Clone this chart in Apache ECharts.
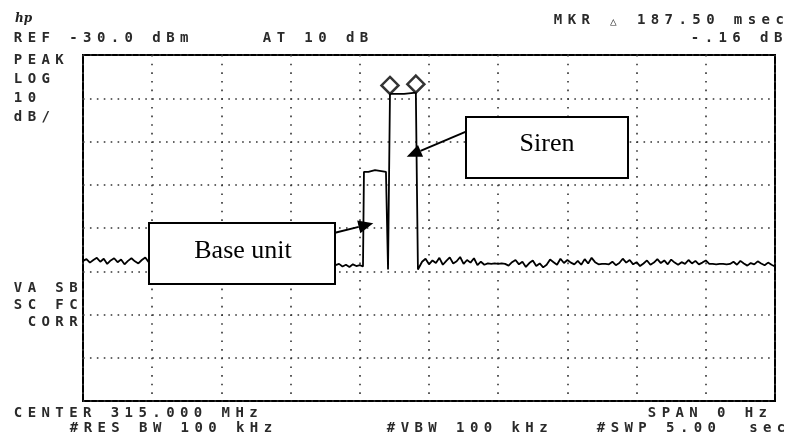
<!DOCTYPE html>
<html>
<head>
<meta charset="utf-8">
<script src="https://cdn.jsdelivr.net/npm/echarts@6/dist/echarts.min.js"></script>
<style>
  html, body { margin: 0; padding: 0; background: #fff; }
  #chart { width: 789px; height: 439px; }
</style>
</head>
<body>
<div id="chart"></div>
<script>
// sweep: 0..5000 ms, amplitude in dBm (ref -30, 10 dB/div)
var stepMs = 25;
var noiseAStart = 0;
var noiseA = [
  -77.6,-77.2,-78.0,-77.4,-76.9,-77.8,-77.1,-78.3,-77.5,-77.0,
  -77.9,-77.3,-78.4,-77.6,-77.0,-77.7,-78.2,-77.4,-76.8,-77.9,
  -78.5,-77.6,-77.1,-78.0,-77.4,-78.6,-77.8,-77.2,-78.1,-77.5,
  -78.7,-77.9,-77.3,-78.2,-77.6,-78.8,-77.7,-77.1,-78.3,-77.8,
  -78.5,-77.4,-78.0,-77.6,-78.9,-77.9,-77.2,-78.4,-77.7,-78.1,
  -77.5,-78.6,-77.8,-77.3,-78.2,-77.9,-78.7,-77.6,-78.0,-77.4,
  -78.5,-77.8,-78.3,-77.5,-78.1,-78.8,-77.7,-78.2,-78.6,-77.9,
  -78.4,-78.9,-78.1,-78.6,-78.3,-78.9,-78.5,-79.0,-78.4,-78.8,
  -78.6
];
var pulseMs = [2023, 2030, 2062, 2070, 2110, 2118, 2189, 2196, 2204, 2211,
               2218, 2320, 2330, 2405, 2412, 2420, 2428];
var pulseDb = [-78.9, -57.0, -57.0, -56.6, -56.6, -57.0, -57.0, -67.7, -79.6, -79.6,
               -39.0, -39.0, -38.7, -38.7, -58.4, -79.6, -79.3];
var noiseBStart = 2450;
var noiseB = [
  -77.8,-77.1,-78.4,-77.5,-78.1,-76.9,-78.5,-77.6,-76.8,-78.2,-77.7,
  -76.7,-78.3,-77.4,-78.0,-77.0,-78.6,-77.8,-78.5,-78.2,-78.3,-78.2,
  -78.3,-78.2,-78.3,-78.7,-77.9,-77.4,-78.4,-77.8,-79.0,-78.1,-77.5,
  -78.8,-78.2,-79.1,-78.5,-77.3,-77.9,-78.5,-77.1,-78.1,-77.4,-78.0,
  -78.4,-77.6,-78.5,-77.2,-78.2,-76.9,-77.9,-78.4,-78.3,-78.3,-78.4,
  -77.8,-78.6,-78.1,-77.1,-78.0,-77.4,-78.4,-77.9,-78.8,-78.2,-77.5,
  -78.5,-78.0,-77.2,-78.1,-77.5,-78.4,-77.3,-78.0,-78.5,-77.9,-78.3,
  -77.4,-78.2,-77.6,-78.4,-78.0,-77.5,-78.3,-78.3,-78.4,-78.3,-78.3,
  -78.4,-78.3,-77.8,-78.5,-77.6,-78.2,-78.7,-78.1,-78.4,-77.7,-78.2,
  -78.6,-78.0,-78.5,-78.9
];
var markerMs = [2218, 2405];
var markerDb = [-39.0, -38.7];

// screen annotations of the analyzer
var topLine1 = 'MKR \u25B3 187.50 msec';
var topLine2 = '-.16 dB';
var refLine = 'REF -30.0 dBm';
var attLine = 'AT 10 dB';
var leftLabels = ['PEAK', 'LOG', '10', 'dB/'];
var leftLabels2 = ['VA SB', 'SC FC', ' CORR'];
var bottomCenter = 'CENTER 315.000 MHz';
var bottomSpan = 'SPAN 0 Hz';
var bottomRbw = '#RES BW 100 kHz';
var bottomVbw = '#VBW 100 kHz';
var bottomSwp = '#SWP 5.00  sec';

var trace = [];
noiseA.forEach(function (v, i) { trace.push([noiseAStart + i * stepMs, v]); });
pulseMs.forEach(function (t, i) { trace.push([t, pulseDb[i]]); });
noiseB.forEach(function (v, i) { trace.push([noiseBStart + i * stepMs, v]); });

var markers = markerMs.map(function (t, i) { return [t, markerDb[i]]; });

var ADV = 13.85;
var monoFont = 'bold 14px "DejaVu Sans Mono"';
function mono(str, cx, cy) {
  var out = [];
  for (var i = 0; i < str.length; i++) {
    var ch = str[i];
    if (ch === ' ') continue;
    var small = ch === '\u25B3';
    out.push({
      type: 'text', z: 100,
      x: cx + i * ADV, y: cy + (small ? 1.5 : 0),
      style: { text: ch, font: small ? '11px "DejaVu Sans Mono"' : monoFont, fill: '#2a2a2a',
               align: 'center', verticalAlign: 'middle' }
    });
  }
  return out;
}

function arrow(x1, y1, x2, y2) {
  var dx = x2 - x1, dy = y2 - y1, len = Math.sqrt(dx * dx + dy * dy);
  var ux = dx / len, uy = dy / len;
  var hl = 15, hw = 6.5;
  var bx = x2 - ux * hl, by = y2 - uy * hl;
  return [
    { type: 'line', z: 101, shape: { x1: x1, y1: y1, x2: bx, y2: by }, style: { stroke: '#000', lineWidth: 2 } },
    { type: 'polygon', z: 101, shape: { points: [[x2, y2], [bx - uy * hw, by + ux * hw], [bx + uy * hw, by - ux * hw]] }, style: { fill: '#000' } }
  ];
}

var graphics = [];
graphics.push({ type: 'text', z: 100, x: 15, y: 19,
  style: { text: 'hp', font: 'italic bold 12px "DejaVu Serif"', fill: '#222', align: 'left', verticalAlign: 'middle' } });
graphics = graphics
  .concat(mono(topLine1, 558, 20.5))
  .concat(mono(topLine2, 695, 38))
  .concat(mono(refLine, 18, 38))
  .concat(mono(attLine, 267, 38));
leftLabels.forEach(function (s, i) { graphics = graphics.concat(mono(s, 18, 60 + i * 19)); });
leftLabels2.forEach(function (s, i) { graphics = graphics.concat(mono(s, 18, 288.5 + i * 17)); });
graphics = graphics
  .concat(mono(bottomCenter, 18, 413))
  .concat(mono(bottomSpan, 652, 413))
  .concat(mono(bottomRbw, 74, 428))
  .concat(mono(bottomVbw, 391, 428))
  .concat(mono(bottomSwp, 601, 428));

// callout boxes
graphics.push({ type: 'rect', z: 100, shape: { x: 466, y: 117, width: 162, height: 61 },
  style: { fill: '#fff', stroke: '#000', lineWidth: 2 } });
graphics.push({ type: 'text', z: 101, x: 547, y: 144,
  style: { text: 'Siren', font: '26px "Liberation Serif"', fill: '#000', align: 'center', verticalAlign: 'middle' } });
graphics.push({ type: 'rect', z: 100, shape: { x: 149, y: 223, width: 186, height: 61 },
  style: { fill: '#fff', stroke: '#000', lineWidth: 2 } });
graphics.push({ type: 'text', z: 101, x: 243, y: 251,
  style: { text: 'Base unit', font: '26px "Liberation Serif"', fill: '#000', align: 'center', verticalAlign: 'middle' } });
graphics = graphics.concat(arrow(466, 131.7, 406.7, 156.7)).concat(arrow(335, 232.7, 373.3, 223.3));

var chart = echarts.init(document.getElementById('chart'), null, { renderer: 'canvas' });
chart.setOption({
  animation: false,
  backgroundColor: '#fff',
  grid: { left: 83, right: 14, top: 55, bottom: 38, show: true, borderColor: '#000', borderWidth: 2 },
  xAxis: {
    type: 'value', min: 0, max: 5000, interval: 500,
    axisLine: { show: false }, axisTick: { show: false }, axisLabel: { show: false },
    splitLine: { show: true, lineStyle: { color: '#333', width: 1.6, type: [1.6, 7.05] } }
  },
  yAxis: {
    type: 'value', min: -110, max: -30, interval: 10,
    axisLine: { show: false }, axisTick: { show: false }, axisLabel: { show: false },
    splitLine: { show: true, lineStyle: { color: '#333', width: 1.6, type: [1.6, 5.32] } }
  },
  series: [
    {
      type: 'line', data: trace, symbol: 'none', z: 3,
      lineStyle: { color: '#000', width: 1.8 }
    },
    {
      type: 'scatter', data: markers, symbol: 'diamond', symbolSize: [17, 17], symbolOffset: [0, -8.5], z: 4,
      itemStyle: { color: '#fff', borderColor: '#000', borderWidth: 2.5 }
    }
  ],
  graphic: graphics
});
</script>
</body>
</html>
